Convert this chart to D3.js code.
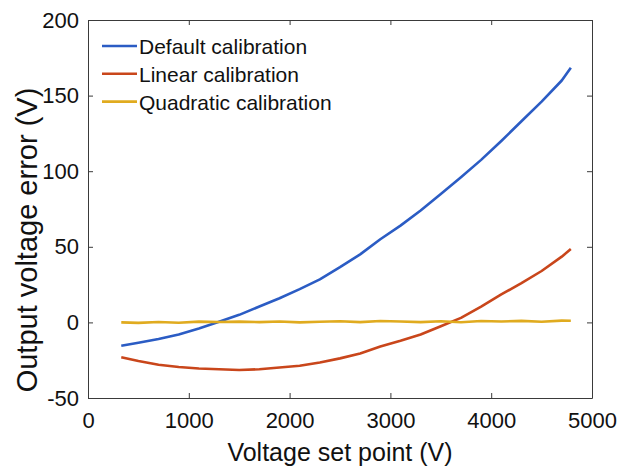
<!DOCTYPE html>
<html lang="en">
<head>
    <meta charset="UTF-8">
    <title>Output voltage error</title>
    <script src="https://d3js.org/d3.v7.min.js"></script>
    <style>
      body { margin: 0; background: #fff; }
      text { font-family: "Liberation Sans", Arial, sans-serif; fill: #111; }
    </style>
</head>
<body>
    <svg id="chart" width="619" height="467"></svg>

    <script>
        // data
        var setPoints = [330, 500, 700, 900, 1100, 1300, 1500, 1700, 1900, 2100, 2300, 2500,
                         2700, 2900, 3100, 3300, 3500, 3700, 3900, 4100, 4300, 4500, 4700, 4790];
        var defaultErr = [-15.5, -13.5, -11, -8, -4, 0.5, 5, 10.5, 16, 22, 28.5, 36.5,
                          45, 55, 64, 74, 85, 96, 107.5, 120, 133, 146, 160, 168.5];
        var linearErr = [-23, -25.5, -28, -29.5, -30.5, -31, -31.5, -31, -29.8, -28.7, -26.5, -23.8,
                         -20.5, -16, -12.2, -8, -2.5, 3, 10.5, 18.5, 26, 34, 43.5, 48.5];
        var quadErr = [0, -0.3, 0.3, -0.2, 0.5, 0.3, 0.5, 0.2, 0.6, 0, 0.4, 0.8,
                       0.2, 0.9, 0.6, 0.2, 0.8, 0.1, 0.9, 0.6, 1, 0.4, 1.2, 1.1];
        var seriesNames = ["Default calibration", "Linear calibration", "Quadratic calibration"];
        var seriesColors = ["#2b5cc4", "#c9461b", "#e0ab1f"];
        var xTicks = [0, 1000, 2000, 3000, 4000, 5000];
        var yTicks = [-50, 0, 50, 100, 150, 200];

        var svg = d3.select("#chart");

        var x = d3.scaleLinear().domain([0, 5000]).range([88, 592]);
        var y = d3.scaleLinear().domain([-50, 200]).range([398, 20]);

        var series = [defaultErr, linearErr, quadErr];
        var plain = function (d) { return String(d); };

        // axes box with inward ticks (left/bottom with labels, top/right mirrored)
        var axisColor = "#3a3a3a";
        var axBottom = svg.append("g").attr("transform", "translate(0," + y(-50) + ")")
            .call(d3.axisBottom(x).tickValues(xTicks).tickSizeInner(-5).tickSizeOuter(0).tickPadding(14).tickFormat(plain));
        var axTop = svg.append("g").attr("transform", "translate(0," + y(200) + ")")
            .call(d3.axisTop(x).tickValues(xTicks).tickSizeInner(-5).tickSizeOuter(0).tickFormat(""));
        var axLeft = svg.append("g").attr("transform", "translate(" + x(0) + ",0)")
            .call(d3.axisLeft(y).tickValues(yTicks).tickSizeInner(-5).tickSizeOuter(0).tickPadding(9).tickFormat(plain));
        var axRight = svg.append("g").attr("transform", "translate(" + x(5000) + ",0)")
            .call(d3.axisRight(y).tickValues(yTicks).tickSizeInner(-5).tickSizeOuter(0).tickFormat(""));

        [axBottom, axTop, axLeft, axRight].forEach(function (g) {
            g.select(".domain").attr("stroke", axisColor).attr("stroke-width", 1);
            g.selectAll(".tick line").attr("stroke", axisColor);
            g.selectAll("text").attr("font-size", 22).attr("fill", "#111")
              .attr("font-family", "'Liberation Sans', Arial, sans-serif");
        });

        // lines
        var line = d3.line()
            .x(function (d, i) { return x(setPoints[i]); })
            .y(function (d) { return y(d); });

        svg.append("g")
          .selectAll("path")
          .data(series)
          .enter()
          .append("path")
            .attr("d", line)
            .attr("fill", "none")
            .attr("stroke", function (d, i) { return seriesColors[i]; })
            .attr("stroke-width", 2.6)
            .attr("stroke-linejoin", "round");

        // legend
        var legend = svg.append("g")
          .selectAll("g")
          .data(seriesNames)
          .enter()
          .append("g")
            .attr("transform", function (d, i) { return "translate(102," + (46 + i * 27.8) + ")"; });
        legend.append("line")
            .attr("x1", 0).attr("x2", 35)
            .attr("stroke", function (d, i) { return seriesColors[i]; })
            .attr("stroke-width", 2.6);
        legend.append("text")
            .attr("x", 37).attr("y", 8)
            .attr("font-size", 21)
            .text(function (d) { return d; });

        // axis titles
        svg.append("text")
            .attr("x", (x(0) + x(5000)) / 2)
            .attr("y", 461)
            .attr("text-anchor", "middle")
            .attr("font-size", 25)
            .text("Voltage set point (V)");

        svg.append("text")
            .attr("transform", "translate(37,240) rotate(-90)")
            .attr("text-anchor", "middle")
            .attr("font-size", 29)
            .text("Output voltage error (V)");
    </script>
</body>
</html>
